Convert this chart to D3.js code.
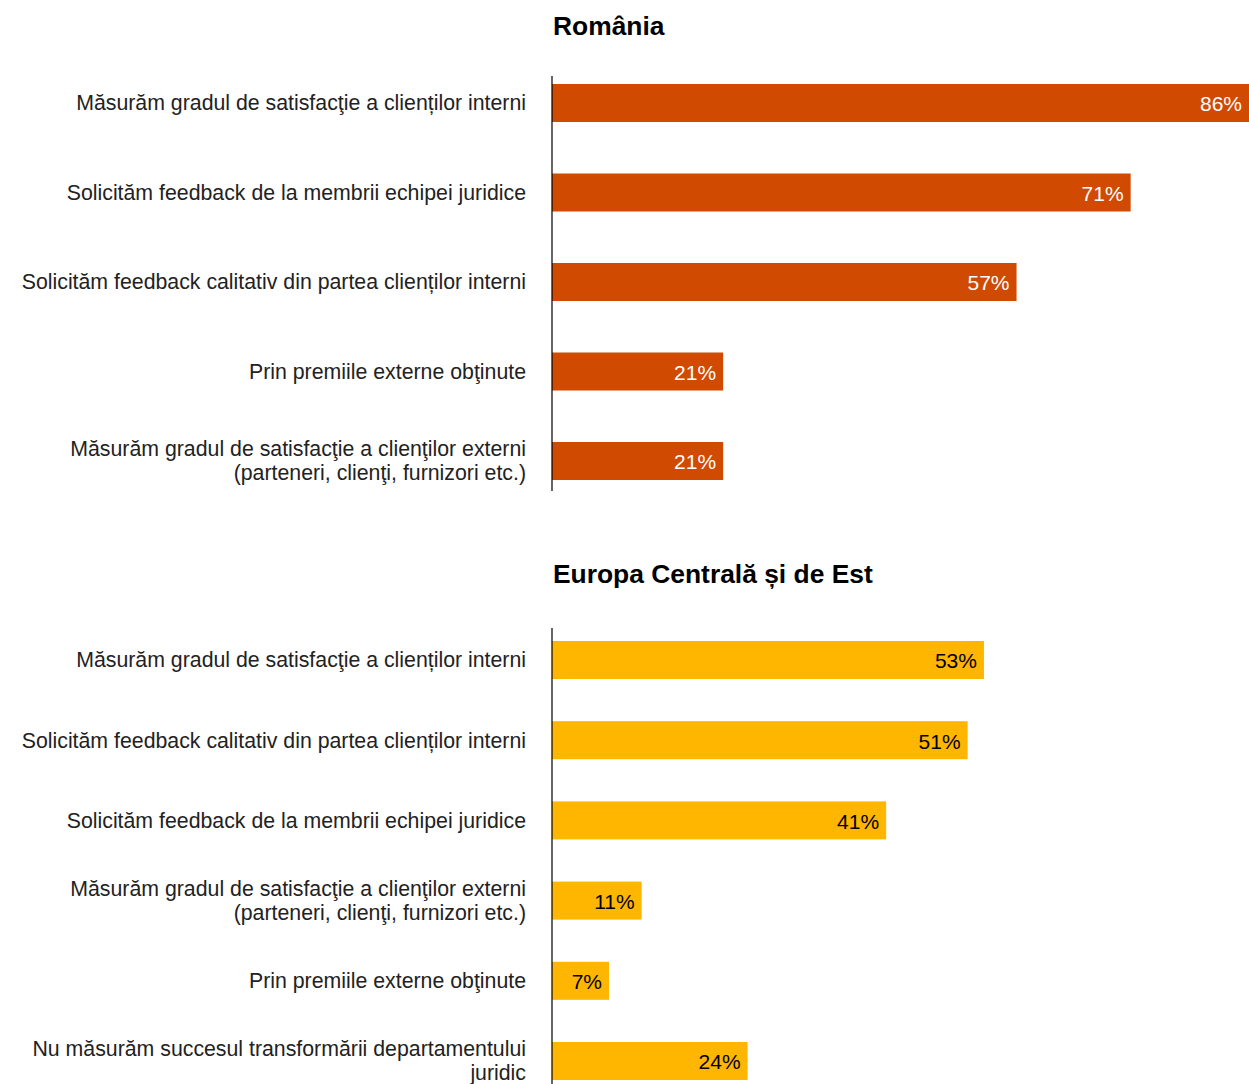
<!DOCTYPE html>
<html><head><meta charset="utf-8">
<script src="https://cdn.jsdelivr.net/npm/d3@7/dist/d3.min.js"></script>
<style>body{margin:0;background:#fff;} svg{display:block;font-family:"Liberation Sans",Arial,sans-serif;}</style>
</head><body>
<svg id="c" width="1249" height="1084"></svg>
<script>
const roCategories = [
  "Măsurăm gradul de satisfacţie a clienților interni",
  "Solicităm feedback de la membrii echipei juridice",
  "Solicităm feedback calitativ din partea clienților interni",
  "Prin premiile externe obţinute",
  "Măsurăm gradul de satisfacţie a clienţilor externi\n(parteneri, clienţi, furnizori etc.)"
];
const roValues = [86, 71, 57, 21, 21];
const ceeCategories = [
  "Măsurăm gradul de satisfacţie a clienților interni",
  "Solicităm feedback calitativ din partea clienților interni",
  "Solicităm feedback de la membrii echipei juridice",
  "Măsurăm gradul de satisfacţie a clienţilor externi\n(parteneri, clienţi, furnizori etc.)",
  "Prin premiile externe obţinute",
  "Nu măsurăm succesul transformării departamentului\njuridic"
];
const ceeValues = [53, 51, 41, 11, 7, 24];
const titles = ["România", "Europa Centrală și de Est"];

const svg = d3.select("#c");
const x = d3.scaleLinear().domain([0, 100]).range([552, 552 + 815]);

function panel(title, cats, vals, titleY, axisTop, axisBottom, yFirst, yLast, color, textColor) {
  const g = svg.append("g");
  g.append("text").attr("x", 553).attr("y", titleY)
    .attr("font-size", 26.4).attr("font-weight", "bold").attr("fill", "#000").text(title);
  const y = d3.scalePoint().domain(cats).range([yFirst, yLast]);
  const bh = 38;
  g.selectAll("rect").data(cats).join("rect")
    .attr("x", x(0)).attr("y", d => y(d) - bh / 2)
    .attr("width", (d, i) => x(vals[i]) - x(0)).attr("height", bh)
    .attr("fill", color);
  g.selectAll("text.val").data(cats).join("text").attr("class", "val")
    .attr("x", (d, i) => Math.min(x(vals[i]), 1249) - 7)
    .attr("y", d => y(d) + 1).attr("dy", "0.35em")
    .attr("text-anchor", "end").attr("font-size", 21).attr("fill", textColor)
    .text((d, i) => vals[i] + "%");
  const lab = g.selectAll("text.lab").data(cats).join("text").attr("class", "lab")
    .attr("text-anchor", "end").attr("font-size", 21.3).attr("fill", "#222");
  lab.each(function(d) {
    const lines = d.split("\n");
    const t = d3.select(this);
    const y0 = y(d) - (lines.length - 1) * 12;
    lines.forEach((l, k) => {
      t.append("tspan").attr("x", 526).attr("y", y0 + k * 24).attr("dy", "0.35em").text(l);
    });
  });
  g.append("line").attr("x1", x(0)).attr("x2", x(0)).attr("y1", axisTop).attr("y2", axisBottom)
    .attr("stroke", "#000").attr("stroke-width", 1.2);
}

panel(titles[0], roCategories, roValues, 35, 76, 491, 103, 461, "#D04A02", "#fff");
panel(titles[1], ceeCategories, ceeValues, 583, 628, 1084, 660, 1061, "#FFB600", "#000");
</script>
</body></html>
